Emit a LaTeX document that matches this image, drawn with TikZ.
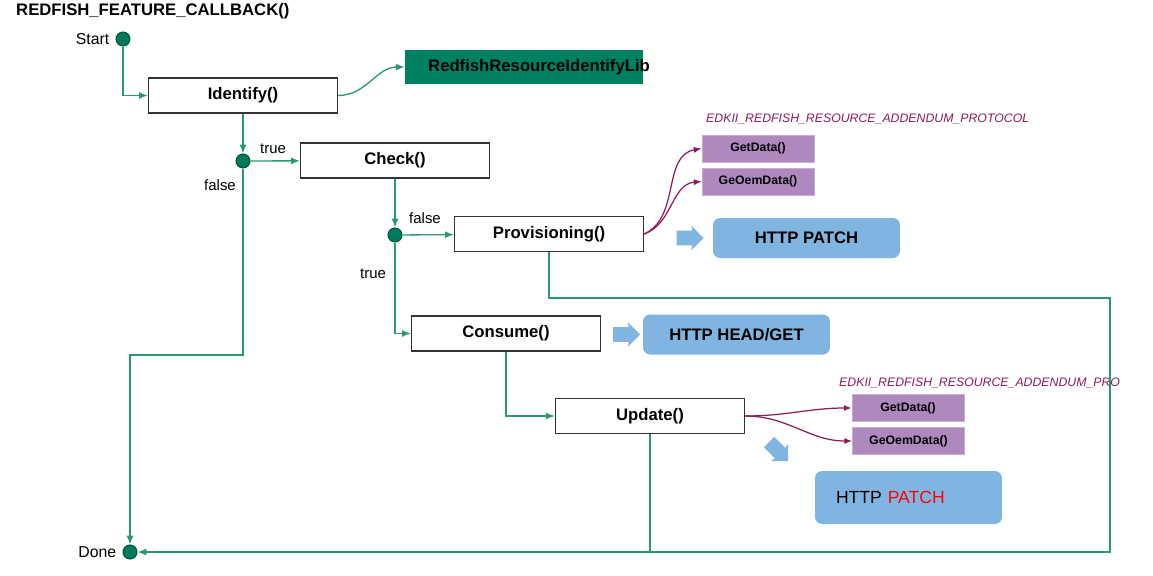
\documentclass[tikz,border=0pt]{standalone}
\usepackage{fontspec}
\setmainfont{Liberation Sans}
\usetikzlibrary{positioning,arrows.meta,shapes.arrows,calc}
\definecolor{flowc}{HTML}{2A9878}
\definecolor{dotc}{HTML}{007A5A}
\definecolor{libc}{HTML}{008062}
\definecolor{httpc}{HTML}{80B5E1}
\definecolor{protoc}{HTML}{AF88C0}
\definecolor{mauve}{HTML}{8C1A5C}

\begin{document}
\begin{tikzpicture}[x=0.02cm,y=-0.02cm,
    fn/.style={draw=black!80,line width=0.8pt,fill=white,minimum width=3.78cm,minimum height=0.7cm,font=\fontsize{9.5}{11}\selectfont\bfseries},
    dot/.style={circle,fill=dotc,draw=dotc!70!black,line width=0.6pt,minimum size=0.28cm,inner sep=0pt},
    flow/.style={draw=flowc,line width=0.75pt,-{Latex[length=5pt,width=4pt]}},
    link/.style={draw=flowc,line width=0.75pt},
    call/.style={draw=mauve,line width=0.7pt,-{Latex[length=4.5pt,width=3.5pt]}},
    proto/.style={fill=protoc,draw=protoc!70!white,minimum width=2.24cm,minimum height=0.54cm,font=\fontsize{7}{8}\selectfont\bfseries},
    http/.style={fill=httpc,rounded corners=4pt,minimum width=3.74cm,minimum height=0.8cm,font=\fontsize{9.5}{11}\selectfont\bfseries},
    blk/.style={single arrow,fill=httpc,inner sep=0.14cm,minimum height=0.54cm,single arrow head extend=0.1cm,single arrow head indent=0.02cm},
    lbl/.style={font=\fontsize{8.5}{10}\selectfont},
    plbl/.style={text=mauve,font=\fontsize{7}{8}\selectfont\itshape}]

    \useasboundingbox (0,0) rectangle (1153,575);

    \node[anchor=west,font=\fontsize{9.5}{11}\selectfont\bfseries] (title) at (10,11) {REDFISH\_FEATURE\_CALLBACK()};

    % main flow
    \node[dot] (start) at (123,39) {};
    \node[lbl,left=0pt of start,font=\fontsize{9}{10}\selectfont] (starttxt) {Start};
    \node[fn] (ident) at (243,95.5) {Identify()};
    \node[fill=libc,minimum width=4.76cm,minimum height=0.68cm] (lib) at (524,67) {};
    \node[anchor=west,font=\fontsize{9.5}{11}\selectfont\bfseries] (libtxt) at (422,67) {RedfishResourceIdentifyLib};

    \node[dot] (d1) at (243,161) {};
    \node[lbl] (t1) at (273,149) {true};
    \node[lbl] (f1) at (220,185) {false};
    \node[fn] (chk) at (395,160.5) {Check()};

    \node[dot] (d2) at (395,235) {};
    \node[lbl] (f2) at (425,218) {false};
    \node[lbl] (t2) at (373,274) {true};
    \node[fn] (prov) at (549,234) {Provisioning()};

    \node[plbl,anchor=west] (pname) at (700,119) {EDKII\_REDFISH\_RESOURCE\_ADDENDUM\_PROTOCOL};
    \node[proto] (get1) at (758,148.5) {GetData()};
    \node[proto] (oem1) at (758,181.5) {GeOemData()};
    \node[blk] (ar1) at (686.5,238) {};
    \node[http] (patch1) at (806.5,238) {HTTP PATCH};

    \node[fn] (cons) at (506,333.5) {Consume()};
    \node[blk] (ar2) at (623,334.5) {};
    \node[http] (head) at (736.5,334.5) {HTTP HEAD/GET};

    \node[fn] (upd) at (650,416) {Update()};
    \begin{scope}
      \clip (828,370) rectangle (1119,396);
      \node[plbl,anchor=west] (pname2) at (833,383) {EDKII\_REDFISH\_RESOURCE\_ADDENDUM\_PROTOCOL};
    \end{scope}
    \node[proto] (get2) at (908,408) {GetData()};
    \node[proto] (oem2) at (908.5,441) {GeOemData()};
    \node[blk,rotate=-45] (ar3) at (776,449) {};
    \node[http,minimum height=1.06cm,text width=2.9cm,inner xsep=0.42cm,align=left,font=\fontsize{10}{12}\selectfont] (patch2) at (908.5,497.5) {HTTP \textcolor{red}{PATCH}};

    \node[dot] (done) at (130,552) {};
    \node[lbl,left=0pt of done,font=\fontsize{9}{10}\selectfont] (donetxt) {Done};

    \coordinate (fl) at (130,355);
    \coordinate (rt) at (1110,298);
    \coordinate (rb) at (1110,552);

    \draw[flow] (start) |- (ident);
    \draw[flow] (ident.east) to[out=0,in=180] (lib.west);
    \draw[flow] (ident) -- (d1);
    \draw[flow] (d1) -- (chk);
    \draw[flow] (d1) |- (fl) -- (done);
    \draw[flow] (chk) -- (d2);
    \draw[flow] (d2) -- (prov);
    \draw[flow] (d2) |- (cons);
    \draw[flow] (cons) |- (upd);
    \draw[flow] (prov) |- (rt) -- (rb) -- (done);
    \draw[link] (upd) -- (upd |- rb);

    \draw[call] (prov.east) to[out=25,in=190] (get1.west);
    \draw[call] (prov.east) to[out=20,in=185] (oem1.west);
    \draw[call] (upd.east) to[out=0,in=180] (get2.west);
    \draw[call] (upd.east) to[out=0,in=180] (oem2.west);
\end{tikzpicture}
\end{document}
